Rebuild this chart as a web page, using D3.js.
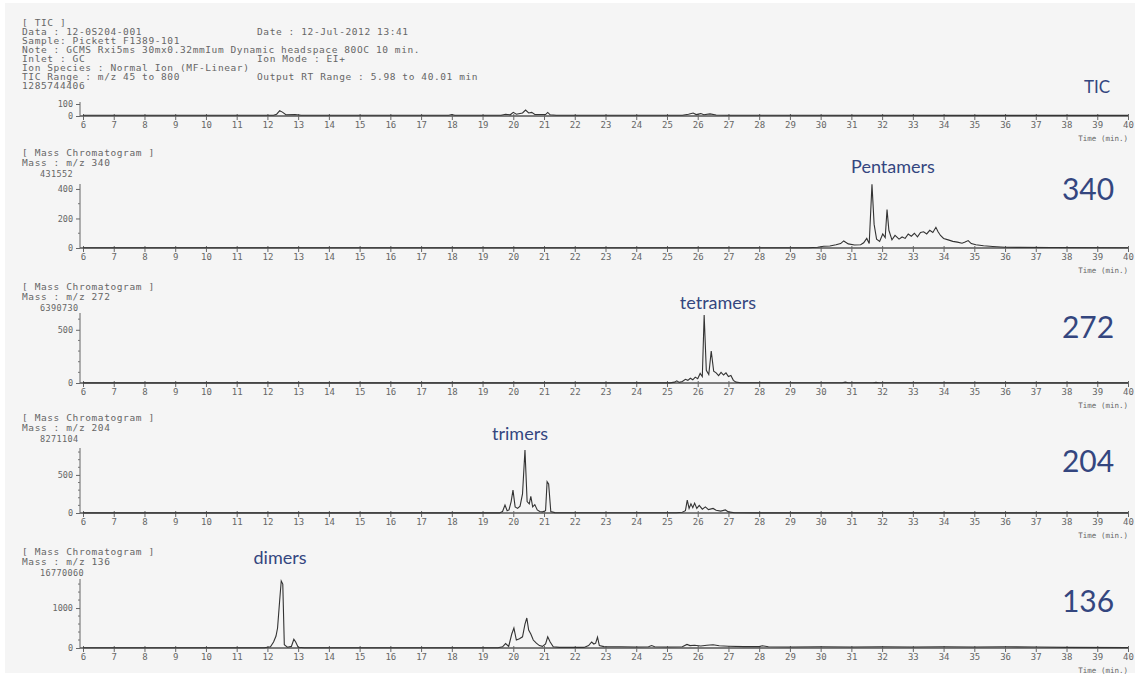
<!DOCTYPE html>
<html>
<head>
<meta charset="utf-8">
<script src="https://cdn.jsdelivr.net/npm/d3@7"></script>
<style>
  body { margin: 0; background: #fff; }
  .mono { font-family: "DejaVu Sans Mono", monospace; fill: #666; }
  .note { font-family: Lato, "Noto Sans", sans-serif; fill: #34467f; }
</style>
</head>
<body>
<svg id="chart" width="1139" height="679"></svg>
<script>
// time axis labels (min.)
var timeTicks = [6,7,8,9,10,11,12,13,14,15,16,17,18,19,20,21,22,23,24,25,26,27,28,29,30,31,32,33,34,35,36,37,38,39,40];

var headerLines = [
  "[ TIC ]",
  "Data  : 12-0S204-001",
  "Sample: Pickett F1389-101",
  "Note  : GCMS Rxi5ms 30mx0.32mmIum Dynamic headspace 80OC 10 min.",
  "Inlet : GC",
  "Ion Species : Normal Ion (MF-Linear)",
  "TIC Range : m/z 45 to 800",
  "1285744406"
];
var headerRight = ["", "Date : 12-Jul-2012 13:41", "", "", "Ion Mode : EI+", "", "Output RT Range : 5.98 to 40.01 min", ""];

// panels top to bottom
var panelNames = ["TIC", "340", "272", "204", "136"];
var panelNotes = ["", "Pentamers", "tetramers", "trimers", "dimers"];
var panelMax = ["1285744406", "431552", "6390730", "8271104", "16770060"];
var panelTop = [100, 420, 639, 827, 1677];
var panelLabelTicks = [[0, 100], [0, 200, 400], [0, 500], [0, 500], [0, 1000]];
var panelMinorTicks = [[], [100, 300], [100, 200, 300, 400, 600], [100, 200, 300, 400, 600, 700, 800], [200, 400, 600, 800, 1200, 1400, 1600]];

// [time, intensity]
var tic = [[6,6],[12.2,6],[12.3,15],[12.4,45],[12.5,30],[12.6,10],[12.9,12],[13.1,6],[17.9,6],[18.0,12],[18.1,6],
  [19.6,6],[19.75,15],[19.9,10],[20.0,30],[20.1,15],[20.3,25],[20.4,50],[20.5,25],[20.6,30],[20.7,12],[21.05,12],
  [21.12,30],[21.2,10],[21.4,6],[25.5,6],[25.7,15],[25.85,25],[25.95,12],[26.1,20],[26.2,10],[26.4,18],[26.6,8],[27,6],[40,5]];

var mz340 = [[6,2],[29.6,2],[29.9,5],[30.1,12],[30.3,14],[30.5,22],[30.65,30],[30.75,48],[30.9,28],[31.1,20],[31.3,22],
  [31.4,35],[31.5,65],[31.58,30],[31.67,431],[31.74,160],[31.82,60],[31.92,45],[32.02,95],[32.1,70],[32.16,260],
  [32.22,120],[32.32,55],[32.42,85],[32.55,60],[32.65,75],[32.75,65],[32.85,95],[32.95,80],[33.05,100],[33.15,75],
  [33.25,105],[33.35,110],[33.45,95],[33.55,120],[33.65,105],[33.75,140],[33.82,110],[33.9,85],[34.0,65],[34.15,55],
  [34.3,45],[34.45,40],[34.6,32],[34.7,40],[34.8,50],[34.9,30],[35.05,22],[35.3,15],[35.6,10],[36.0,5],[36.5,4],[37.5,3],[40,2]];

var mz272 = [[6,1],[25.1,1],[25.25,8],[25.32,20],[25.4,6],[25.5,15],[25.6,35],[25.68,25],[25.76,45],[25.84,30],[25.92,55],
  [26.0,40],[26.08,90],[26.15,60],[26.21,639],[26.28,120],[26.36,80],[26.44,300],[26.52,110],[26.6,95],[26.68,70],
  [26.76,100],[26.84,75],[26.92,95],[27.0,60],[27.08,70],[27.16,25],[27.25,8],[27.4,3],[28,2],[30.7,2],[30.8,8],
  [30.9,2],[31.7,3],[31.8,6],[31.9,2],[40,1]];

var mz204 = [[6,1],[19.55,1],[19.65,20],[19.73,105],[19.8,30],[19.86,40],[19.93,150],[19.99,300],[20.06,80],[20.14,60],
  [20.22,90],[20.3,250],[20.38,827],[20.45,150],[20.52,120],[20.57,220],[20.63,80],[20.7,110],[20.78,40],[20.86,20],
  [20.95,15],[21.05,30],[21.1,410],[21.15,380],[21.22,20],[21.35,5],[22,3],[25.3,3],[25.5,10],[25.6,30],[25.66,170],
  [25.72,60],[25.78,120],[25.84,70],[25.9,130],[25.97,60],[26.05,100],[26.15,50],[26.25,80],[26.35,45],[26.5,60],
  [26.6,35],[26.75,25],[26.9,40],[27.0,15],[27.2,4],[28,2],[40,1]];

var mz136 = [[6,5],[11.9,6],[12.1,30],[12.2,150],[12.28,300],[12.33,500],[12.4,1200],[12.45,1677],[12.5,1600],[12.55,80],
  [12.65,20],[12.78,40],[12.86,220],[12.92,150],[13.0,20],[13.2,8],[19.5,8],[19.65,30],[19.75,110],[19.85,40],[19.95,350],
  [20.02,500],[20.1,200],[20.2,230],[20.3,280],[20.38,600],[20.44,750],[20.5,450],[20.57,350],[20.65,200],[20.75,120],
  [20.85,60],[20.95,40],[21.05,100],[21.12,280],[21.2,150],[21.3,30],[21.5,15],[22.3,15],[22.45,60],[22.55,150],
  [22.62,100],[22.68,120],[22.74,270],[22.8,60],[22.95,35],[23.5,30],[24,25],[24.4,30],[24.5,60],[24.6,30],[25,25],
  [25.5,30],[25.65,90],[25.75,60],[25.9,70],[26.1,50],[26.3,70],[26.5,80],[26.7,55],[27,45],[27.5,35],[28.0,35],
  [28.1,55],[28.3,30],[29,25],[30,30],[31,25],[32,30],[33,25],[34,30],[35,25],[36,30],[37,25],[38,15],[40,10]];

var traces = [tic, mz340, mz272, mz204, mz136];

var W = 1139, H = 679;
var svg = d3.select("#chart");

// scanned paper
svg.append("rect").attr("width", W).attr("height", H).attr("fill", "#fff");
svg.append("rect").attr("x", 5).attr("y", 3).attr("width", W - 9).attr("height", H - 9).attr("fill", "#f5f5f5");

var x = d3.scaleLinear().domain([6, 40]).range([83, 1128]);

// pixel layout of each panel: baseline, top of y axis, first header row
var baseY = [116, 248, 383, 513, 648];
var topY = [104, 186, 315, 450, 581];
var headY = [23, 153, 287, 418, 552];

// TIC header block
headerLines.forEach(function(t, i) {
  svg.append("text").attr("class", "mono").attr("x", 22).attr("y", headY[0] + i * 9 + 3)
    .attr("font-size", 9.5).attr("letter-spacing", 0.6).text(t);
  if (headerRight[i]) {
    svg.append("text").attr("class", "mono").attr("x", 257).attr("y", headY[0] + i * 9 + 3)
      .attr("font-size", 9.5).attr("letter-spacing", 0.6).text(headerRight[i]);
  }
});

panelNames.forEach(function(name, p) {
  var y = d3.scaleLinear().domain([0, panelTop[p]]).range([baseY[p], topY[p]]);
  var g = svg.append("g");

  if (p > 0) {
    g.append("text").attr("class", "mono").attr("x", 22).attr("y", headY[p] + 3)
      .attr("font-size", 9.5).attr("letter-spacing", 0.6).text("[ Mass Chromatogram ]");
    g.append("text").attr("class", "mono").attr("x", 22).attr("y", headY[p] + 13)
      .attr("font-size", 9.5).attr("letter-spacing", 0.6).text("Mass : m/z " + name);
    g.append("text").attr("class", "mono").attr("x", 40).attr("y", headY[p] + 24)
      .attr("font-size", 8.5).attr("letter-spacing", 0.4).text(panelMax[p]);
  }

  // x axis
  var xAxis = d3.axisBottom(x).tickValues(timeTicks).tickSize(4).tickFormat(d3.format("d"));
  var ga = g.append("g").attr("transform", "translate(0," + baseY[p] + ")").call(xAxis);
  ga.select(".domain").attr("d", "M80,0H1128").attr("stroke", "#555").attr("stroke-width", 1.3);
  ga.selectAll(".tick line").attr("stroke", "#666").attr("y1", -2);
  ga.selectAll(".tick text").attr("class", "mono").attr("font-size", 9).attr("dy", "0.6em");

  g.append("text").attr("class", "mono").attr("x", 1128).attr("y", baseY[p] + 25)
    .attr("text-anchor", "end").attr("font-size", 7.5).text("Time (min.)");

  // y axis
  var yAxis = d3.axisLeft(y).tickValues(panelLabelTicks[p]).tickSize(4).tickFormat(d3.format("d"));
  var gy = g.append("g").attr("transform", "translate(80,0)").call(yAxis);
  gy.select(".domain").attr("d", "M0," + baseY[p] + "V" + (topY[p] - 2)).attr("stroke", "#666");
  gy.selectAll(".tick line").attr("stroke", "#666");
  gy.selectAll(".tick text").attr("class", "mono").attr("font-size", 8.5);
  gy.selectAll(".minor").data(panelMinorTicks[p]).enter().append("line")
    .attr("x1", -2).attr("x2", 0).attr("y1", y).attr("y2", y).attr("stroke", "#777");

  // trace
  var line = d3.line().x(function(d) { return x(d[0]); }).y(function(d) { return y(d[1]); });
  g.append("path").datum(traces[p]).attr("d", line)
    .attr("fill", "none").attr("stroke", "#333").attr("stroke-width", 1.1);
});

// blue annotations
var notePos = [[1097, 93], [893, 173], [718, 309], [520, 440], [280, 564]];
var namePos = [[1088, 200], [1088, 200], [1088, 338], [1088, 472], [1088, 612]];

svg.append("text").attr("class", "note").attr("x", notePos[0][0]).attr("y", notePos[0][1])
  .attr("text-anchor", "middle").attr("font-size", 17).text("TIC");
panelNames.forEach(function(name, p) {
  if (p == 0) return;
  svg.append("text").attr("class", "note").attr("x", notePos[p][0]).attr("y", notePos[p][1])
    .attr("text-anchor", "middle").attr("font-size", 18).text(panelNotes[p]);
  svg.append("text").attr("class", "note").attr("x", namePos[p][0]).attr("y", namePos[p][1])
    .attr("text-anchor", "middle").attr("font-size", 30).text(name);
});
</script>
</body>
</html>
